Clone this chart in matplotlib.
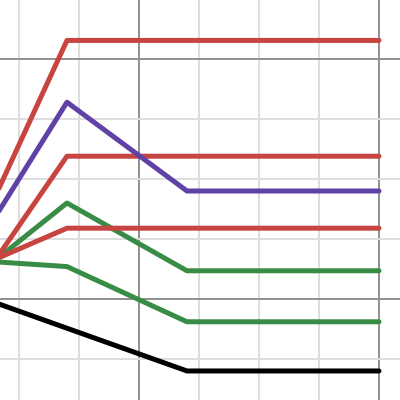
import matplotlib
matplotlib.use('Agg')
import matplotlib.pyplot as plt
import numpy as np

# grid units: 0.5 per minor cell, major every 2
X_LIM = (-1.158, 2.175)
Y_LIM = (-0.842, 2.492)

red_top_x = [-1.2, -0.6, 2.0]
red_top_y = [0.85, 2.155, 2.155]

purple_x = [-1.2, -0.6, 0.4, 2.0]
purple_y = [0.68, 1.64, 0.9, 0.9]

red_mid_x = [-1.2, -0.6, 2.0]
red_mid_y = [0.32, 1.19, 1.19]

red_low_x = [-1.2, -0.6, 2.0]
red_low_y = [0.33, 0.59, 0.59]

green_up_x = [-1.2, -0.6, 0.4, 2.0]
green_up_y = [0.32, 0.8, 0.235, 0.235]

green_low_x = [-1.2, -0.6, 0.4, 2.0]
green_low_y = [0.31, 0.27, -0.19, -0.19]

black_x = [-1.2, 0.4, 2.0]
black_y = [-0.03, -0.6, -0.6]

RED = '#c74440'
PURPLE = '#6042a6'
GREEN = '#388c46'
BLACK = '#000000'

fig = plt.figure(figsize=(4, 4), dpi=100)
ax = fig.add_axes([0, 0, 1, 1])
ax.set_xlim(*X_LIM)
ax.set_ylim(*Y_LIM)

# grid
for v in np.arange(-1.0, 2.5, 0.5):
    major = abs(v / 2 - round(v / 2)) < 1e-9
    ax.axvline(v, color='#8f8f8f' if major else '#dedede', lw=1.4, zorder=0)
for v in np.arange(-0.5, 2.5, 0.5):
    major = abs(v / 2 - round(v / 2)) < 1e-9
    ax.axhline(v, color='#8f8f8f' if major else '#dedede', lw=1.4, zorder=0)

lw = 3.6
ax.plot(black_x, black_y, color=BLACK, lw=lw, solid_capstyle='round', solid_joinstyle='round')
ax.plot(green_low_x, green_low_y, color=GREEN, lw=lw, solid_capstyle='round', solid_joinstyle='round')
ax.plot(green_up_x, green_up_y, color=GREEN, lw=lw, solid_capstyle='round', solid_joinstyle='round')
ax.plot(red_low_x, red_low_y, color=RED, lw=lw, solid_capstyle='round', solid_joinstyle='round')
ax.plot(red_mid_x, red_mid_y, color=RED, lw=lw, solid_capstyle='round', solid_joinstyle='round')
ax.plot(purple_x, purple_y, color=PURPLE, lw=lw, solid_capstyle='round', solid_joinstyle='round')
ax.plot(red_top_x, red_top_y, color=RED, lw=lw, solid_capstyle='round', solid_joinstyle='round')

ax.axis('off')
fig.savefig('out.png', dpi=100)
